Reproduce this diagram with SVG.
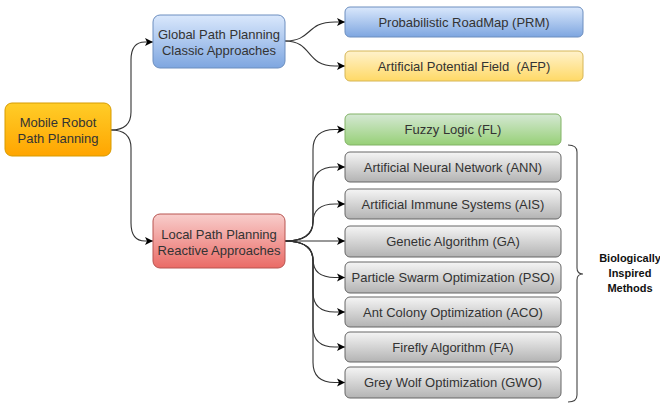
<svg xmlns="http://www.w3.org/2000/svg" width="660" height="405" viewBox="0 0 660 405">
<defs>
<linearGradient id="gOrange" x1="0" y1="0" x2="0" y2="1"><stop offset="0" stop-color="#ffcd28"/><stop offset="1" stop-color="#ffa500"/></linearGradient>
<linearGradient id="gBlue" x1="0" y1="0" x2="0" y2="1"><stop offset="0" stop-color="#dae8fc"/><stop offset="1" stop-color="#7ea6e0"/></linearGradient>
<linearGradient id="gYellow" x1="0" y1="0" x2="0" y2="1"><stop offset="0" stop-color="#fff2cc"/><stop offset="1" stop-color="#ffd966"/></linearGradient>
<linearGradient id="gRed" x1="0" y1="0" x2="0" y2="1"><stop offset="0" stop-color="#f8cecc"/><stop offset="1" stop-color="#ea6b66"/></linearGradient>
<linearGradient id="gGreen" x1="0" y1="0" x2="0" y2="1"><stop offset="0" stop-color="#d5e8d4"/><stop offset="1" stop-color="#97d077"/></linearGradient>
<linearGradient id="gGray" x1="0" y1="0" x2="0" y2="1"><stop offset="0" stop-color="#f5f5f5"/><stop offset="1" stop-color="#b3b3b3"/></linearGradient>
<marker id="arr" markerUnits="userSpaceOnUse" markerWidth="12" markerHeight="10" viewBox="-9 -5 10 10" refX="0" refY="0" orient="auto">
<path d="M0,0 L-8,-4 L-6,0 L-8,4 Z" fill="#000"/>
</marker>
</defs>
<style>
.t{font-family:"Liberation Sans",Arial,sans-serif;font-size:13px;fill:#333;text-anchor:middle}
.b{font-family:"Liberation Sans",Arial,sans-serif;font-size:11px;font-weight:bold;fill:#111;text-anchor:middle}
.e{fill:none;stroke:#333;stroke-width:1.1;marker-end:url(#arr)}
.orange{fill:url(#gOrange);stroke:#d79b00}
.blue{fill:url(#gBlue);stroke:#6c8ebf}
.yellow{fill:url(#gYellow);stroke:#d6b656}
.red{fill:url(#gRed);stroke:#b85450}
.green{fill:url(#gGreen);stroke:#82b366}
.gray{fill:url(#gGray);stroke:#666}
</style>
<g id="connectors">
<path class="e" d="M111,130 Q131,130 131,112 L131,60 Q131,42 145,42 L153,42"/>
<path class="e" d="M111,130 Q131,130 131,148 L131,223 Q131,241 145,241 L153,241"/>
<path class="e" d="M285,41 C313,41 305,22 335,22 L345,22"/>
<path class="e" d="M285,41 C313,41 305,66 335,66 L345,66"/>
<path class="e" d="M285,241 Q313,241 313,221 L313,149.5 Q313,129.5 335,129.5 L345,129.5"/>
<path class="e" d="M285,241 Q313,241 313,221 L313,187 Q313,167 335,167 L345,167"/>
<path class="e" d="M285,241 Q313,241 313,222.5 Q313,204 335,204 L345,204"/>
<path class="e" d="M285,241 L345,241"/>
<path class="e" d="M285,241 Q313,241 313,259.25 Q313,277.5 335,277.5 L345,277.5"/>
<path class="e" d="M285,241 Q313,241 313,261 L313,292 Q313,312 335,312 L345,312"/>
<path class="e" d="M285,241 Q313,241 313,261 L313,327 Q313,347 335,347 L345,347"/>
<path class="e" d="M285,241 Q313,241 313,261 L313,362.5 Q313,382.5 335,382.5 L345,382.5"/>
</g>
<g id="mobile"><rect class="orange" x="5" y="103" width="106" height="53" rx="7"/><text class="t" x="58" y="126.5">Mobile Robot</text><text class="t" x="58" y="142.5">Path Planning</text></g>
<g id="global"><rect class="blue" x="153" y="15" width="132" height="53" rx="7"/><text class="t" x="219" y="38.5">Global Path Planning</text><text class="t" x="219" y="54.5">Classic Approaches</text></g>
<g id="local"><rect class="red" x="153" y="214" width="132" height="54" rx="7"/><text class="t" x="219" y="238.5">Local Path Planning</text><text class="t" x="219" y="254.5">Reactive Approaches</text></g>
<g id="prm"><rect class="blue" x="345" y="7" width="238" height="30" rx="5"/><text class="t" x="464" y="26.5">Probabilistic RoadMap (PRM)</text></g>
<g id="afp"><rect class="yellow" x="345" y="51" width="238" height="30" rx="5"/><text class="t" x="464" y="70.5" xml:space="preserve">Artificial Potential Field  (AFP)</text></g>
<g id="fl"><rect class="green" x="345" y="114" width="216" height="31" rx="5"/><text class="t" x="453" y="134">Fuzzy Logic (FL)</text></g>
<g id="ann"><rect class="gray" x="345" y="152" width="216" height="30" rx="5"/><text class="t" x="453" y="171.5">Artificial Neural Network (ANN)</text></g>
<g id="ais"><rect class="gray" x="345" y="189" width="216" height="30" rx="5"/><text class="t" x="453" y="208.5">Artificial Immune Systems (AIS)</text></g>
<g id="ga"><rect class="gray" x="345" y="226" width="216" height="31" rx="5"/><text class="t" x="453" y="246">Genetic Algorithm (GA)</text></g>
<g id="pso"><rect class="gray" x="345" y="262" width="216" height="31" rx="5"/><text class="t" x="453" y="282">Particle Swarm Optimization (PSO)</text></g>
<g id="aco"><rect class="gray" x="345" y="297" width="216" height="30" rx="5"/><text class="t" x="453" y="316.5">Ant Colony Optimization (ACO)</text></g>
<g id="fa"><rect class="gray" x="345" y="332" width="216" height="30" rx="5"/><text class="t" x="453" y="351.5">Firefly Algorithm (FA)</text></g>
<g id="gwo"><rect class="gray" x="345" y="367" width="216" height="31" rx="5"/><text class="t" x="453" y="387">Grey Wolf Optimization (GWO)</text></g>
<g id="brace">
<path d="M568,145 Q577,145 577,152 L577,268 Q577,274 583,274 Q577,274 577,280 L577,395 Q577,402 568,402" fill="none" stroke="#444" stroke-width="1.1"/>
<text class="b" x="630" y="262">Biologically</text>
<text class="b" x="630" y="277">Inspired</text>
<text class="b" x="630" y="292">Methods</text>
</g>
</svg>
